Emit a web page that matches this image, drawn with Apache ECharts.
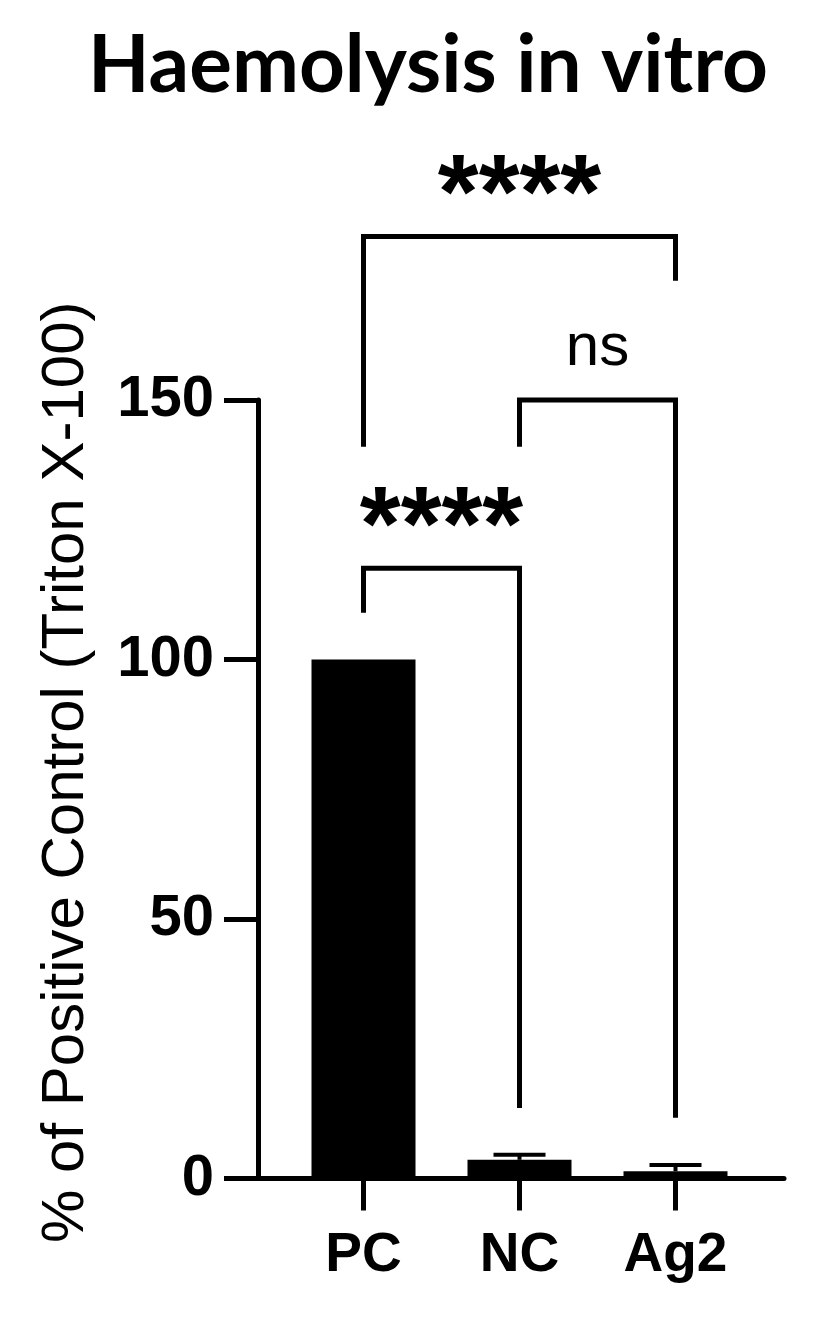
<!DOCTYPE html>
<html>
<head>
<meta charset="utf-8">
<script src="https://cdn.jsdelivr.net/npm/echarts@6/dist/echarts.min.js"></script>
<style>
html,body{margin:0;padding:0;background:#fff;}
#chart{width:825px;height:1322px;}
</style>
</head>
<body>
<div id="chart"></div>
<script>
// ---- data ----
var categories = ['PC', 'NC', 'Ag2'];
var means = [100, 3.6, 1.4];
var errors = [0, 1.0, 1.2];
var yTicks = [0, 50, 100, 150];

// significance brackets
var bracketFrom = [0, 1, 0];
var bracketTo = [1, 2, 2];
var bracketLevel = [117.6, 150, 181.5];
var legFromEnd = [109, 141, 141];
var legToEnd = [13.6, 11.7, 173];
var bracketLabel = ['****', 'ns', '****'];

// ---- build ----
var barData = means.slice();
var errData = means.map(function (m, i) { return [i, m, errors[i]]; });
var bracketData = bracketFrom.map(function (f, i) {
  return [f, bracketTo[i], bracketLevel[i], legFromEnd[i], legToEnd[i]];
});

var LW = 5;
var chart = echarts.init(document.getElementById('chart'), null, { renderer: 'canvas' });

var option = {
  backgroundColor: '#ffffff',
  animation: false,
  title: {
    text: 'Haemolysis in vitro',
    left: 428,
    top: 26,
    padding: 0,
    textAlign: 'center',
    textStyle: { fontFamily: 'Lato', fontWeight: 'bold', fontSize: 80, color: '#000' }
  },
  grid: [
    { left: 258, right: 41, top: 400, bottom: 143.5, containLabel: false },
    { left: 285.5, width: 468, top: 400, bottom: 143.5, containLabel: false }
  ],
  xAxis: [
    {
      type: 'value', gridIndex: 0, min: 0, max: 1,
      axisLine: { show: true, lineStyle: { color: '#000', width: LW } },
      axisTick: { show: false }, axisLabel: { show: false }, splitLine: { show: false }
    },
    {
      type: 'category', gridIndex: 1, data: categories,
      axisLine: { show: false },
      axisTick: { show: true, alignWithLabel: true, length: 32, lineStyle: { color: '#000', width: LW } },
      axisLabel: { show: true, margin: 50, fontFamily: 'Liberation Sans', fontWeight: 'bold', fontSize: 55, color: '#000' },
      splitLine: { show: false }
    }
  ],
  yAxis: [
    {
      type: 'value', gridIndex: 0, min: yTicks[0], max: yTicks[yTicks.length - 1], interval: 50,
      axisLine: { show: true, lineStyle: { color: '#000', width: LW } },
      axisTick: { show: true, length: 34, lineStyle: { color: '#000', width: LW } },
      axisLabel: { show: true, margin: 44, fontFamily: 'Liberation Sans', fontWeight: 'bold', fontSize: 58, color: '#000' },
      splitLine: { show: false },
      name: '% of Positive Control (Triton X-100)',
      nameLocation: 'middle',
      nameRotate: 90,
      nameGap: 162,
      nameTextStyle: { fontFamily: 'Liberation Sans', fontSize: 60, color: '#000', padding: [0, 0, 0, 34] }
    },
    {
      type: 'value', gridIndex: 1, min: 0, max: 150, interval: 50, show: false
    }
  ],
  series: [
    {
      type: 'bar', xAxisIndex: 1, yAxisIndex: 1,
      data: barData, barWidth: 104,
      itemStyle: { color: '#000' }, z: 2
    },
    {
      type: 'custom', xAxisIndex: 1, yAxisIndex: 1, data: errData,
      encode: { x: 0, y: 1 }, z: 3,
      renderItem: function (params, api) {
        var i = api.value(0), m = api.value(1), e = api.value(2);
        if (!e) return { type: 'group', children: [] };
        var p0 = api.coord([i, m]);
        var p1 = api.coord([i, m + e]);
        var st = { stroke: '#000', lineWidth: 4 };
        return {
          type: 'group',
          children: [
            { type: 'line', shape: { x1: p0[0], y1: p0[1], x2: p1[0], y2: p1[1] }, style: st },
            { type: 'line', shape: { x1: p1[0] - 26, y1: p1[1], x2: p1[0] + 26, y2: p1[1] }, style: st }
          ]
        };
      }
    },
    {
      type: 'custom', xAxisIndex: 1, yAxisIndex: 1, data: bracketData,
      encode: { x: 0, y: 2 }, z: 4, clip: false,
      renderItem: function (params, api) {
        var f = api.value(0), t = api.value(1), lv = api.value(2), fe = api.value(3), te = api.value(4);
        var a = api.coord([f, fe]);
        var b = api.coord([f, lv]);
        var c = api.coord([t, lv]);
        var d = api.coord([t, te]);
        var lab = bracketLabel[params.dataIndex];
        var stars = lab.indexOf('*') >= 0;
        return {
          type: 'group',
          children: [
            {
              type: 'polyline',
              shape: { points: [a, b, c, d] },
              style: { stroke: '#000', lineWidth: LW, fill: null, lineJoin: 'miter' }
            },
            {
              type: 'text',
              style: {
                text: lab,
                x: (b[0] + c[0]) / 2,
                y: b[1] - (stars ? 37 : 52),
                align: 'center',
                verticalAlign: 'middle',
                fill: '#000',
                font: stars ? 'bold 105px "Liberation Sans"' : 'normal 60px "Liberation Sans"'
              }
            }
          ]
        };
      }
    }
  ]
};
chart.setOption(option);
</script>
</body>
</html>
